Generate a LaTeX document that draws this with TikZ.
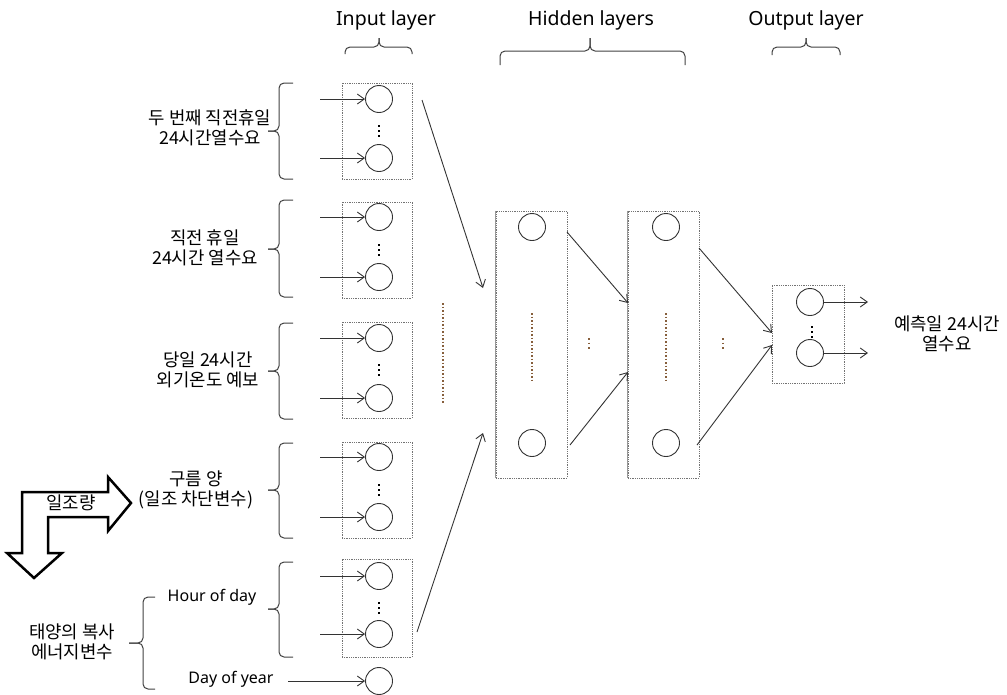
\documentclass[tikz,border=0pt]{standalone}
\usepackage{fontspec}
\setmainfont{Noto Sans}
\newfontfamily\krfont{Noto Sans CJK KR}
\usetikzlibrary{arrows.meta, calc}
\definecolor{dotbrown}{RGB}{135,95,60}
\tikzstyle{arrow}    = [line width=0.9pt, black!80, -{Straight Barb[length=7pt,width=10pt]}]
\tikzstyle{vertex}   = [draw=black!80, line width=0.9pt, circle, minimum size=27pt, inner sep=0pt]
\tikzstyle{layerbox} = [draw=black!55, densely dotted, line width=0.8pt, inner sep=0pt]
\tikzstyle{bracket}  = [line width=1pt, black!75, rounded corners=5pt]
\tikzstyle{vdots}    = [line width=1.6pt, dash pattern=on 1.6pt off 3.4pt]
\tikzstyle{dotline}  = [dotbrown, line width=1.5pt, dash pattern=on 1.5pt off 2pt]
\tikzstyle{title}    = [font=\fontsize{19.5}{22}\selectfont]
\tikzstyle{txt}      = [font=\krfont\fontsize{17.8}{20.5}\selectfont, align=center, inner sep=0pt]
\tikzstyle{lat}      = [font=\fontsize{16}{20}\selectfont, inner sep=0pt]

\begin{document}
\begin{tikzpicture}[x=1pt,y=-1pt]
\useasboundingbox (0,0) rectangle (1007,694);

% titles
\node[title] (tin) at (386,20) {Input layer};
\node[title] (thid) at (591,20) {Hidden layers};
\node[title] (tout) at (806,20) {Output layer};
\draw[bracket] (345,54) |- (379,47) -- (379,38);
\draw[bracket] (379,38) -- (379,47) -| (412,54);
\draw[bracket] (500,65) |- (590,51) -- (590,38);
\draw[bracket] (590,38) -- (590,51) -| (685,65);
\draw[bracket] (772,55) |- (806,47) -- (806,38);
\draw[bracket] (806,38) -- (806,47) -| (840,55);

% input layer
\node[layerbox, minimum width=70pt, minimum height=96pt] (in1) at (377,131) {};
\node[vertex] (i11) at (379,99) {};
\node[vertex] (i12) at (379,158) {};
\draw[vdots] (379,125.2) -- (379,136.8);

\node[layerbox, minimum width=70pt, minimum height=96pt] (in2) at (377,250) {};
\node[vertex] (i21) at (379,217) {};
\node[vertex] (i22) at (379,277) {};
\draw[vdots] (379,244.2) -- (379,255.8);

\node[layerbox, minimum width=70pt, minimum height=96pt] (in3) at (377,370) {};
\node[vertex] (i31) at (379,338) {};
\node[vertex] (i32) at (379,398) {};
\draw[vdots] (379,364.2) -- (379,375.8);

\node[layerbox, minimum width=70pt, minimum height=96pt] (in4) at (377,490) {};
\node[vertex] (i41) at (379,457) {};
\node[vertex] (i42) at (379,517) {};
\draw[vdots] (379,484.2) -- (379,495.8);

\node[layerbox, minimum width=70pt, minimum height=98pt] (in5) at (377,608) {};
\node[vertex] (i51) at (379,576) {};
\node[vertex] (i52) at (379,634) {};
\draw[vdots] (379,602.2) -- (379,613.8);

\node[vertex] (i6) at (379,681) {};

% inputs
\draw[arrow] ($(i11)+(-59,0)$) -- (i11);
\draw[arrow] ($(i12)+(-59,0)$) -- (i12);
\draw[arrow] ($(i21)+(-59,0)$) -- (i21);
\draw[arrow] ($(i22)+(-59,0)$) -- (i22);
\draw[arrow] ($(i31)+(-59,0)$) -- (i31);
\draw[arrow] ($(i32)+(-59,0)$) -- (i32);
\draw[arrow] ($(i41)+(-59,0)$) -- (i41);
\draw[arrow] ($(i42)+(-59,0)$) -- (i42);
\draw[arrow] ($(i51)+(-59,0)$) -- (i51);
\draw[arrow] ($(i52)+(-59,0)$) -- (i52);
\draw[arrow] ($(i6)+(-91,0)$) -- (i6);

% input labels
\node[txt] (t1) at (210,128) {두 번째 직전휴일\\24시간열수요};
\node[txt] (t2) at (205,248) {직전 휴일\\24시간 열수요};
\node[txt] (t3) at (208,370) {당일 24시간\\외기온도 예보};
\node[txt] (t4) at (196,490) {구름 양\\(일조 차단변수)};
\node[lat] (t5) at (212,597) {Hour of day};
\node[lat] (t6) at (231,679) {Day of year};
\node[txt] (t7) at (72,642) {태양의 복사\\에너지변수};

% braces
\draw[bracket] (293,83) -| (279,131) -- (268,131);
\draw[bracket] (268,131) -- (279,131) |- (293,179);
\draw[bracket] (293,200) -| (279,249) -- (268,249);
\draw[bracket] (268,249) -- (279,249) |- (293,297);
\draw[bracket] (293,323) -| (279,371) -- (268,371);
\draw[bracket] (268,371) -- (279,371) |- (293,419);
\draw[bracket] (293,443) -| (279,490) -- (268,490);
\draw[bracket] (268,490) -- (279,490) |- (293,538);
\draw[bracket] (293,562) -| (279,609) -- (268,609);
\draw[bracket] (268,609) -- (279,609) |- (293,657);
\draw[bracket] (155,597) -| (143,643) -- (129,643);
\draw[bracket] (129,643) -- (143,643) |- (155,689);

% sunshine arrow
\draw[line width=2.5pt, fill=white] (22,492) -- (108,492) -- (108,477) -- (131,503) -- (108,531) -- (108,517) -- (48,517) -- (48,553) -- (62,553) -- (34,578) -- (7,553) -- (22,553) -- cycle;
\node[txt] (t9) at (71,503) {일조량};

\draw[dotline] (443,303) -- (443,403);

% hidden layers
\node[layerbox, minimum width=71pt, minimum height=267pt] (h1) at (531.5,344.5) {};
\draw[black!40, line width=1.2pt] (h1.north west) -- (h1.south west);
\node[vertex] (h11) at (532,227) {};
\node[vertex] (h12) at (532,443) {};
\draw[dotline] (532,313) -- (532,383);

\node[layerbox, minimum width=71pt, minimum height=267pt] (h2) at (663.5,344.5) {};
\draw[black!40, line width=1.2pt] (h2.north west) -- (h2.south west);
\node[vertex] (h21) at (666,227) {};
\node[vertex] (h22) at (666,443) {};
\draw[dotline] (666,313) -- (666,383);

\draw[dotline, dash pattern=on 1.5pt off 3.2pt] (589,338) -- (589,351);
\draw[dotline, dash pattern=on 1.5pt off 3.2pt] (723,338) -- (723,351);

% output layer
\node[layerbox, minimum width=72pt, minimum height=98pt] (out) at (808,334) {};
\node[vertex] (o1) at (810,302) {};
\node[vertex] (o2) at (810,353) {};
\draw[vdots] (812,326.2) -- (812,337.8);
\draw[arrow] (o1) -- ($(o1)+(58,0)$);
\draw[arrow] (o2) -- ($(o2)+(58,0)$);
\node[txt] (t8) at (947,334) {예측일 24시간\\열수요};

% layer connections
\coordinate (s1) at (422,100);  \coordinate (e1) at (483,288);
\coordinate (s2) at (417,632);  \coordinate (e2) at (483,433);
\coordinate (s3) at (567,232);  \coordinate (e3) at (628,303);
\coordinate (s4) at (570,445);  \coordinate (e4) at (628,372);
\coordinate (s5) at (699,248);  \coordinate (e5) at (772,333);
\coordinate (s6) at (697,445);  \coordinate (e6) at (772,345);
\draw[arrow] (s1) -- (e1);
\draw[arrow] (s2) -- (e2);
\draw[arrow] (s3) -- (e3);
\draw[arrow] (s4) -- (e4);
\draw[arrow] (s5) -- (e5);
\draw[arrow] (s6) -- (e6);

\end{tikzpicture}
\end{document}
